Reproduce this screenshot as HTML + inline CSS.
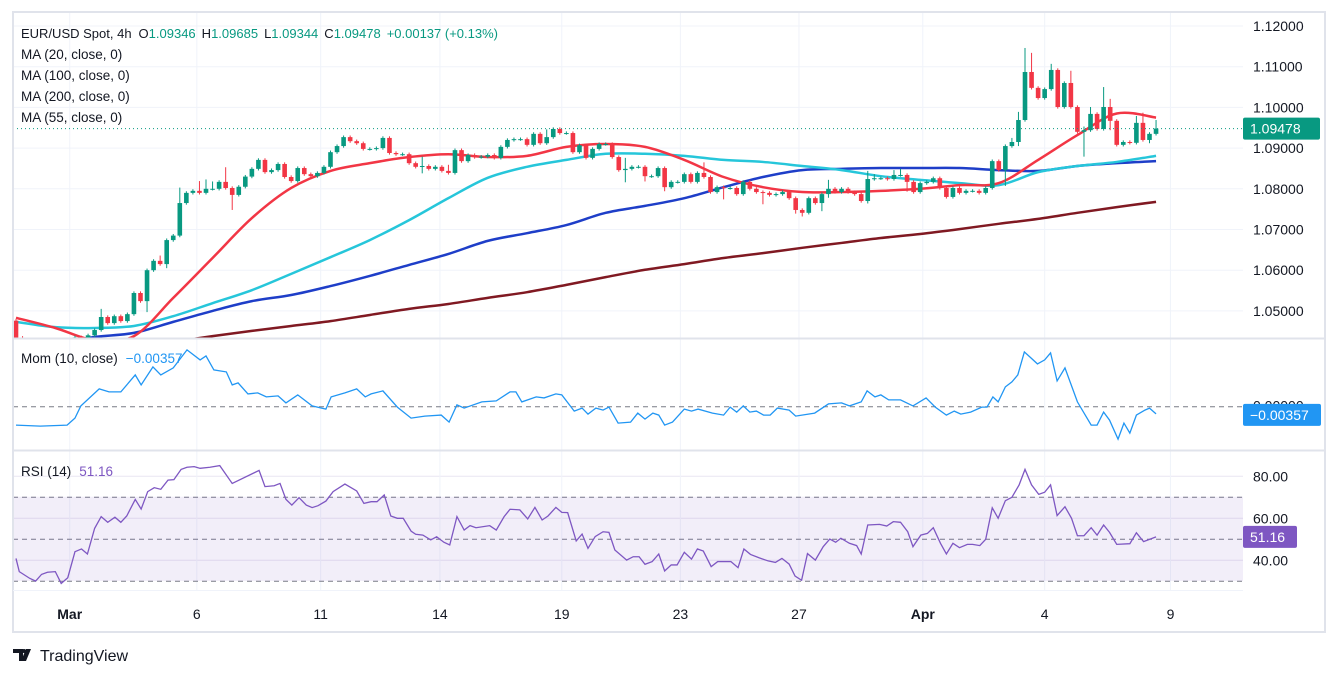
<!DOCTYPE html>
<html><head><meta charset="utf-8"><style>
html,body{margin:0;padding:0;background:#fff;width:1338px;height:676px;overflow:hidden}
svg{display:block;font-family:"Liberation Sans",sans-serif}
</style></head><body>
<svg id="chart" width="1338" height="676" viewBox="0 0 1338 676" xmlns="http://www.w3.org/2000/svg">
<rect x="0" y="0" width="1338" height="676" fill="#fff"/>
<defs>
<clipPath id="cMain"><rect x="13" y="13" width="1230" height="325"/></clipPath>
<clipPath id="cMom"><rect x="13" y="339" width="1230" height="111"/></clipPath>
<clipPath id="cRsi"><rect x="13" y="451" width="1230" height="139"/></clipPath>
</defs>
<g id="grid"></g>
<rect x="13" y="496.7" width="1230" height="84.3" fill="#7e57c2" fill-opacity="0.1"/>
<g id="main" clip-path="url(#cMain)"></g>
<g id="mom" clip-path="url(#cMom)"></g>
<g id="rsi" clip-path="url(#cRsi)"></g>
<g id="axes"></g>
<rect x="13" y="12" width="1312" height="620" fill="none" stroke="#e0e3eb" stroke-width="2"/>
<line x1="13" y1="338.5" x2="1325" y2="338.5" stroke="#e0e3eb" stroke-width="2"/>
<line x1="13" y1="450.5" x2="1325" y2="450.5" stroke="#e0e3eb" stroke-width="2"/>
<line x1="13" y1="590.5" x2="1243" y2="590.5" stroke="#f0f3fa" stroke-width="1"/>
<g font-size="13.5" fill="#131722">
<text x="21" y="38" font-size="13">EUR/USD Spot, 4h<tspan dx="7">O</tspan><tspan fill="#089981">1.09346</tspan><tspan dx="6">H</tspan><tspan fill="#089981">1.09685</tspan><tspan dx="6">L</tspan><tspan fill="#089981">1.09344</tspan><tspan dx="6">C</tspan><tspan fill="#089981">1.09478</tspan><tspan dx="6" fill="#089981">+0.00137 (+0.13%)</tspan></text>
<text x="21" y="59">MA (20, close, 0)</text>
<text x="21" y="80">MA (100, close, 0)</text>
<text x="21" y="101">MA (200, close, 0)</text>
<text x="21" y="122">MA (55, close, 0)</text>
<text x="21" y="363">Mom (10, close)<tspan dx="8" fill="#2196f3">−0.00357</tspan></text>
<text x="21" y="476">RSI (14)<tspan dx="8" fill="#7e57c2">51.16</tspan></text>
</g>
<g>
<path d="M13 649h10v12h-4v-8h-6z M26 649h5l-5 12h-5z" fill="#131722"/>
<circle cx="24" cy="651" r="2" fill="#131722"/>
<text x="40" y="661" font-size="16" fill="#131722">TradingView</text>
</g>
<script>
const closes=[1.0434,1.0430,1.0425,1.0420,1.0428,1.0422,1.0418,1.0425,1.0430,1.0435,1.0432,1.0440,1.0453,
1.0485,1.0470,1.0487,1.0475,1.0492,1.0544,1.0524,1.0600,1.0623,1.0615,1.0674,1.0685,1.0765,1.0790,1.0795,1.0790,1.0800,1.0800,1.0817,1.0802,1.0785,1.0805,1.0830,1.0849,1.0871,1.0841,1.0846,1.0861,1.0829,1.0819,1.0851,1.0836,1.0831,1.0839,
1.0854,1.0890,1.0905,1.0927,1.0917,1.0912,1.0898,1.0898,1.0900,1.0925,1.0888,1.0885,1.0885,1.0863,1.0854,1.0856,1.0849,1.0854,1.0844,1.0839,1.0895,1.0868,1.0883,1.0878,1.0879,1.0883,1.0876,1.0903,1.0920,1.0922,1.0922,1.0908,1.0935,1.0912,1.0927,1.0947,1.0937,1.0937,1.0890,1.0907,1.0876,1.0898,1.0910,1.0910,1.0878,1.0846,1.0849,
1.0854,1.0854,1.0831,1.0831,1.0851,1.0804,1.0817,1.0817,1.0836,1.0817,1.0839,1.0829,1.0792,1.0804,1.0802,1.0802,1.0787,1.0817,1.0800,1.0792,1.0790,1.0785,1.0787,1.0792,1.0777,1.0748,1.0741,1.0777,1.0765,1.0787,1.0800,1.0792,1.0800,1.0792,1.0787,1.0770,1.0824,1.0826,1.0826,1.0824,1.0834,1.0834,1.0817,1.0792,1.0814,1.0817,1.0826,1.0802,1.0780,1.0802,
1.0790,1.0795,1.0795,1.0790,1.0802,1.0868,1.0846,1.0905,1.0915,1.0969,1.1087,1.1048,1.1023,1.1045,1.1092,1.1001,1.1060,1.1001,1.0940,1.0944,1.0984,1.0947,1.1001,1.0967,1.0908,1.0915,1.0913,1.0962,1.0920,1.0935,1.0948];
const firstOpen=1.0476;
const upPips=[4,4,4,4,4,4,4,4,4,4,4,4,4,20,4,4,4,4,4,4,4,4,13,4,4,
38,4,4,24,23,18,4,36,4,4,4,4,4,4,4,4,4,4,4,4,4,4,4,4,4,
4,4,4,4,4,4,4,4,4,4,4,4,23,4,4,4,15,4,4,4,4,4,4,4,4,
4,4,4,4,4,4,19,4,4,4,4,4,4,4,4,4,4,4,27,4,4,4,4,4,4,
4,4,4,4,4,26,4,4,4,4,4,4,4,4,4,4,4,4,4,4,4,4,4,4,22,
4,4,4,4,4,20,10,4,4,12,15,4,4,4,4,4,4,4,4,4,4,4,4,4,4,
4,4,10,20,59,47,4,4,15,4,4,30,4,9,17,4,49,20,4,4,4,17,25,4,21];
const dnPips=[4,4,4,4,4,4,4,4,4,4,4,4,4,4,4,4,4,4,4,4,27,4,4,10,4,
4,4,4,4,4,4,4,4,37,4,4,4,4,4,4,4,4,4,4,4,4,4,4,4,4,
4,4,4,4,4,4,4,4,4,4,4,4,16,4,4,4,4,4,4,4,4,4,4,4,4,
4,4,4,4,4,4,4,4,4,4,4,4,4,4,4,4,4,4,30,4,4,13,4,4,10,
4,4,4,4,4,4,4,4,28,4,4,4,4,4,28,4,4,4,4,9,9,4,4,20,9,
4,4,4,4,4,6,4,4,4,4,4,24,4,4,4,4,4,4,4,4,4,4,4,4,4,
4,39,4,10,4,4,4,4,4,4,4,4,4,61,4,4,4,23,4,4,4,4,4,8,4];
const maIdx=[0,6,12,18,24,30,36,42,48,54,60,66,72,78,84,90,96,102,108,114,120,126,132,138,144,150,156,162,168,174];
const ma20=[1.0483,1.0458,1.0428,1.0438,1.0532,1.0630,1.0728,1.0802,1.0844,1.0863,1.0878,1.0885,1.0878,1.0881,1.0903,1.0910,1.0903,1.0871,1.0829,1.0804,1.0792,1.0792,1.0795,1.0800,1.0809,1.0814,1.0871,1.0932,1.0985,1.0975];
const ma55=[1.0473,1.0460,1.0458,1.0463,1.0487,1.0519,1.0551,1.0591,1.0632,1.0674,1.0723,1.0777,1.0827,1.0854,1.0871,1.0886,1.0886,1.0881,1.0871,1.0866,1.0856,1.0846,1.0831,1.0822,1.0814,1.0809,1.0841,1.0856,1.0866,1.0881];
const ma100=[1.0404,1.0421,1.0436,1.0446,1.0473,1.0500,1.0524,1.0539,1.0561,1.0586,1.0613,1.0640,1.0672,1.0691,1.0711,1.0741,1.0758,1.0777,1.0804,1.0829,1.0846,1.0849,1.0851,1.0851,1.0851,1.0846,1.0844,1.0856,1.0863,1.0868];
const ma200=[1.0379,1.0389,1.0399,1.0411,1.0424,1.0438,1.0451,1.0463,1.0475,1.0490,1.0505,1.0517,1.0532,1.0546,1.0564,1.0583,1.0601,1.0615,1.0630,1.0642,1.0655,1.0667,1.0679,1.0689,1.0701,1.0714,1.0726,1.0741,1.0755,1.0768];
const momIdx=[0,3.7,7.8,9,9.9,12.7,14.2,16,18.2,19.1,20.9,22.1,24,26.1,28.1,29,30.2,32.1,33,33.9,35.4,36.9,38.2,40,41.2,43,45.2,47.3,48.1,50.2,52,53.3,54.2,56,58.2,60.3,62.4,64.9,66.1,67.3,68.4,71.1,73.3,75.4,76.3,77.2,79.4,80.6,82.4,83.3,85.2,86.4,87.3,88.5,89.6,90.5,
91.9,93.8,94.9,96,97.2,98.1,99,100.2,102,103.1,104.1,106.3,108,109,110,111,112,113,114.1,115.1,116.2,118,119,121.9,124,126,127.2,129,129.9,131.1,132,133.2,135,136.9,138.9,140.3,142,143.2,144.2,145.7,147.4,148.2,149.1,149.9,151,152,152.9,153.9,154.9,155.9,157,157.9,158.9,160.1,162,164.1,165,166,166.9,168.2,169.1,170,171,172.3,173,174];
const momVal=[-0.0092,-0.0097,-0.0092,-0.0057,0.0004,0.0089,0.0074,0.0074,0.0159,0.0109,0.0199,0.0159,0.0194,0.0284,0.0234,0.0254,0.0184,0.0174,0.0109,0.0119,0.0064,0.0069,0.0049,0.0054,0.0019,0.0059,0.0004,-0.0012,0.0049,0.0069,0.0089,0.0049,0.0064,0.0079,-0.0002,-0.0057,-0.0047,-0.0042,-0.0077,0.0009,-0.0007,0.0024,0.0029,0.0074,0.0074,0.0024,0.0049,0.0044,0.0064,0.0059,-0.0022,-0.0007,-0.0037,-0.0007,-0.0017,-0.0002,
-0.0082,-0.0077,-0.0032,-0.0062,-0.0032,-0.0042,-0.0092,-0.0077,-0.0012,-0.0022,-0.0012,-0.0032,-0.0042,-0.0002,-0.0027,0.0004,-0.0027,-0.0022,-0.0042,-0.0042,-0.0007,-0.0017,-0.0047,-0.0032,0.0014,0.0019,0.0004,0.0024,0.0079,0.0049,0.0059,0.0034,0.0034,0.0004,0.0044,-0.0002,-0.0042,-0.0022,-0.0037,-0.0027,-0.0002,-0.0002,0.0049,0.0024,0.0099,0.0124,0.0159,0.0274,0.0244,0.0214,0.0234,0.0269,0.0129,0.0194,0.0024,-0.0092,-0.0092,-0.0027,-0.0067,-0.0162,-0.0082,-0.0132,-0.0042,-0.0017,-0.0007,-0.0036];
const rsiIdx=[0,0.5,2.1,3,3.9,4.8,6,6.9,7.9,9,10,10.9,12,13,14,15.1,16,16.9,18.2,19.1,20.1,21.1,22.1,23.2,24.1,25.2,26.1,27.2,28.1,29.6,31.1,33,37.1,38,39.4,40.3,41.2,42.1,43.2,44.3,45.2,46.1,47.3,48.4,50.2,52,53.1,54.2,55.1,56.2,57.2,58.2,59.1,60.3,61,62.1,63.3,64.2,65.3,66.2,67.3,68.4,69.3,70.2,72.3,73.3,74.5,75.4,76.9,78.1,79.2,80.3,81.2,82.4,83.3,84.2,85.5,86.4,87.3,88.4,89.6,90.5,91.4,
93.2,94.2,95.1,96,97.1,98.1,99,100,100.9,102,103.1,104,104.9,106.1,107.1,109.1,110.2,111.1,112.1,113.4,114.8,115.9,116.9,118,118.9,119.9,120.8,122,123.2,124.2,125.1,125.9,127.2,128.3,129,130,131.8,132.9,133.9,135,136.1,136.9,138.1,139.1,140,141.1,142,143,144,145.2,146,147.1,148,149,149.9,151,152,153.1,154,155,156.1,157,157.9,158.9,160.1,161.1,162,163,164.1,165,166,166.9,168,170,171,172.1,174];
const rsiVal=[40.9,34.6,31.4,30.1,33.3,34.3,34.6,29.0,31.7,44.1,45.4,43.0,55.2,60.8,58.1,60.5,58.1,61.1,69.0,64.4,72.7,74.6,73.8,78.2,78.4,83.3,84.3,84.6,83.8,84.3,85.1,76.6,82.8,75.1,75.5,76.6,69.0,66.3,69.8,66.3,65.1,66.0,68.2,72.7,76.3,73.0,67.1,67.9,67.9,71.1,61.1,60.0,60.0,53.9,52.4,52.0,49.7,51.2,48.6,47.3,60.8,54.4,56.5,55.5,56.5,54.4,60.8,64.3,64.0,59.7,65.2,59.2,61.1,65.2,62.8,62.7,49.2,52.5,45.7,51.3,53.6,53.3,44.9,
40.1,41.7,41.7,38.1,39.4,43.0,34.9,37.8,37.8,43.8,40.6,45.4,44.4,37.0,39.4,39.4,36.5,45.4,42.8,41.2,39.7,39.0,40.9,38.2,32.5,30.5,43.2,40.1,46.5,50.1,48.6,50.5,48.1,47.0,43.0,56.8,57.1,56.3,58.4,58.1,53.6,46.5,52.0,52.8,55.5,48.1,43.0,48.1,46.0,47.6,47.6,47.0,50.0,65.0,60.0,68.4,70.0,75.9,83.3,75.9,71.4,72.4,75.9,61.3,65.5,60.0,51.7,51.7,55.5,52.0,56.8,53.3,47.6,47.9,53.1,48.9,51.16];
const priceTicks=[1.12,1.11,1.10,1.09,1.08,1.07,1.06,1.05];
const priceTickLabels=["1.12000","1.11000","1.10000","1.09000","1.08000","1.07000","1.06000","1.05000"];
const rsiTicks=[80,60,40];
const rsiTickLabels=["80.00","60.00","40.00"];
const rsiLevels=[70,50,30];
const dateIdx=[8.2,27.6,46.5,64.7,83.3,101.4,119.5,138.4,157.0,176.2];
const dateLabels=["Mar","6","11","14","19","23","27","Apr","4","9"];
const lastClose=1.09478, lastMom=-0.00357, lastRsi=51.16;

const NS="http://www.w3.org/2000/svg";
const X=i=>16+i*6.552;
const Y=p=>26+(1.12-p)*4070;
const YM=v=>406.7-v*2000;
const YR=v=>539.3-(v-50)*2.1;
function mk(tag,attrs,parent){const e=document.createElementNS(NS,tag);for(const k in attrs)e.setAttribute(k,attrs[k]);parent.appendChild(e);return e;}
const grid=document.getElementById('grid'),main=document.getElementById('main'),mom=document.getElementById('mom'),rsi=document.getElementById('rsi'),axes=document.getElementById('axes');

priceTicks.forEach((p,k)=>{
 const l=mk('line',{x1:13,x2:1243,y1:Y(p),y2:Y(p),stroke:'#f0f3fa','stroke-width':1},grid);
 
 
 const t=mk('text',{x:1253,y:Y(p)+5,'font-size':14,fill:'#131722'},axes);
 t.textContent=priceTickLabels[k];
 
 
});
rsiTicks.forEach((v,k)=>{
 const l=mk('line',{x1:13,x2:1243,y1:YR(v),y2:YR(v),stroke:'#e9e6f2','stroke-width':1},grid);
 
 
 const t=mk('text',{x:1253,y:YR(v)+5,'font-size':14,fill:'#131722'},axes);
 t.textContent=rsiTickLabels[k];
 
 
});
dateIdx.forEach((d,k)=>{
 const l=mk('line',{x1:X(d),x2:X(d),y1:13,y2:590,stroke:'#f0f3fa','stroke-width':1},grid);
 
 
 const bold=(dateLabels[k]==='Mar'||dateLabels[k]==='Apr');
 const t=mk('text',{x:X(d),y:619,'font-size':14,fill:'#131722','text-anchor':'middle','font-weight':bold?'bold':'normal'},axes);
 t.textContent=dateLabels[k];
 
 
});
rsiLevels.forEach(v=>{
 const l=mk('line',{x1:13,x2:1243,y1:YR(v),y2:YR(v),stroke:'#787b86','stroke-width':1,'stroke-dasharray':'5 4'},grid);
 
 
});
const z=mk('line',{x1:13,x2:1243,y1:YM(0),y2:YM(0),stroke:'#787b86','stroke-width':1,'stroke-dasharray':'5 4'},grid);



function maPath(vals,color,name,w){
 let d='';
 maIdx.forEach((ix,k)=>{
  const x=X(ix),y=Y(vals[k]);
  if(k===0){d+='M'+x+' '+y;return;}
  const x0=X(maIdx[k-1]),y0=Y(vals[k-1]);
  const xm=X(maIdx[Math.max(k-2,0)]),ym=Y(vals[Math.max(k-2,0)]);
  const xn=X(maIdx[Math.min(k+1,maIdx.length-1)]),yn=Y(vals[Math.min(k+1,vals.length-1)]);
  const c1x=x0+(x-xm)/6,c1y=y0+(y-ym)/6,c2x=x-(xn-x0)/6,c2y=y-(yn-y0)/6;
  d+=' C'+c1x+' '+c1y+' '+c2x+' '+c2y+' '+x+' '+y;
 });
 const p=mk('path',{d:d,fill:'none',stroke:color,'stroke-width':w,'stroke-linejoin':'round'},main);
 
 
}
maPath(ma200,'#801922','ma200-line',2.5);
maPath(ma100,'#1e3ec8','ma100-line',2.5);
maPath(ma55,'#26c6da','ma55-line',2.5);
maPath(ma20,'#f23645','ma20-line',2.5);

closes.forEach((c,i)=>{
 const o=i===0?firstOpen:closes[i-1];
 const up=c>=o, col=up?'#089981':'#f23645';
 const hi=Math.max(o,c)+upPips[i]*0.0001, lo=Math.min(o,c)-dnPips[i]*0.0001;
 const x=X(i);
 const w=mk('line',{x1:x,x2:x,y1:Y(hi),y2:Y(lo),stroke:col,'stroke-width':1},main);
 
 
 const top=Y(Math.max(o,c)), h=Math.max(1,Y(Math.min(o,c))-top);
 const b=mk('rect',{x:x-2.3,y:top,width:4.6,height:h,fill:col},main);
 
 
});
const pl=mk('line',{x1:13,x2:1243,y1:Y(lastClose),y2:Y(lastClose),stroke:'#089981','stroke-width':1,'stroke-dasharray':'1 3'},main);



const mp=mk('polyline',{points:momIdx.map((ix,k)=>X(ix)+','+YM(momVal[k])).join(' '),fill:'none',stroke:'#2196f3','stroke-width':1.3},mom);


const rp=mk('polyline',{points:rsiIdx.map((ix,k)=>X(ix)+','+YR(rsiVal[k])).join(' '),fill:'none',stroke:'#7e57c2','stroke-width':1.3},rsi);



const zt=mk('text',{x:1253,y:YM(0)+4,'font-size':14,fill:'#131722'},axes);
zt.textContent='0.00000';


function tag(y,w,color,txt,name){
 const r=mk('rect',{x:1243,y:y-11,width:w,height:22,rx:2,fill:color},axes);
 
 
 const t=mk('text',{x:1250,y:y+5,'font-size':14,fill:'#fff'},axes);
 t.textContent=txt;
 
 
}
tag(Y(lastClose),77,'#089981',lastClose.toFixed(5),'last-price-tag');
tag(YM(lastMom)+1,78,'#2196f3','−'+Math.abs(lastMom).toFixed(5),'momentum-value-tag');
tag(YR(lastRsi),54,'#7e57c2',lastRsi.toFixed(2),'rsi-value-tag');
</script>
</svg>
</body></html>
